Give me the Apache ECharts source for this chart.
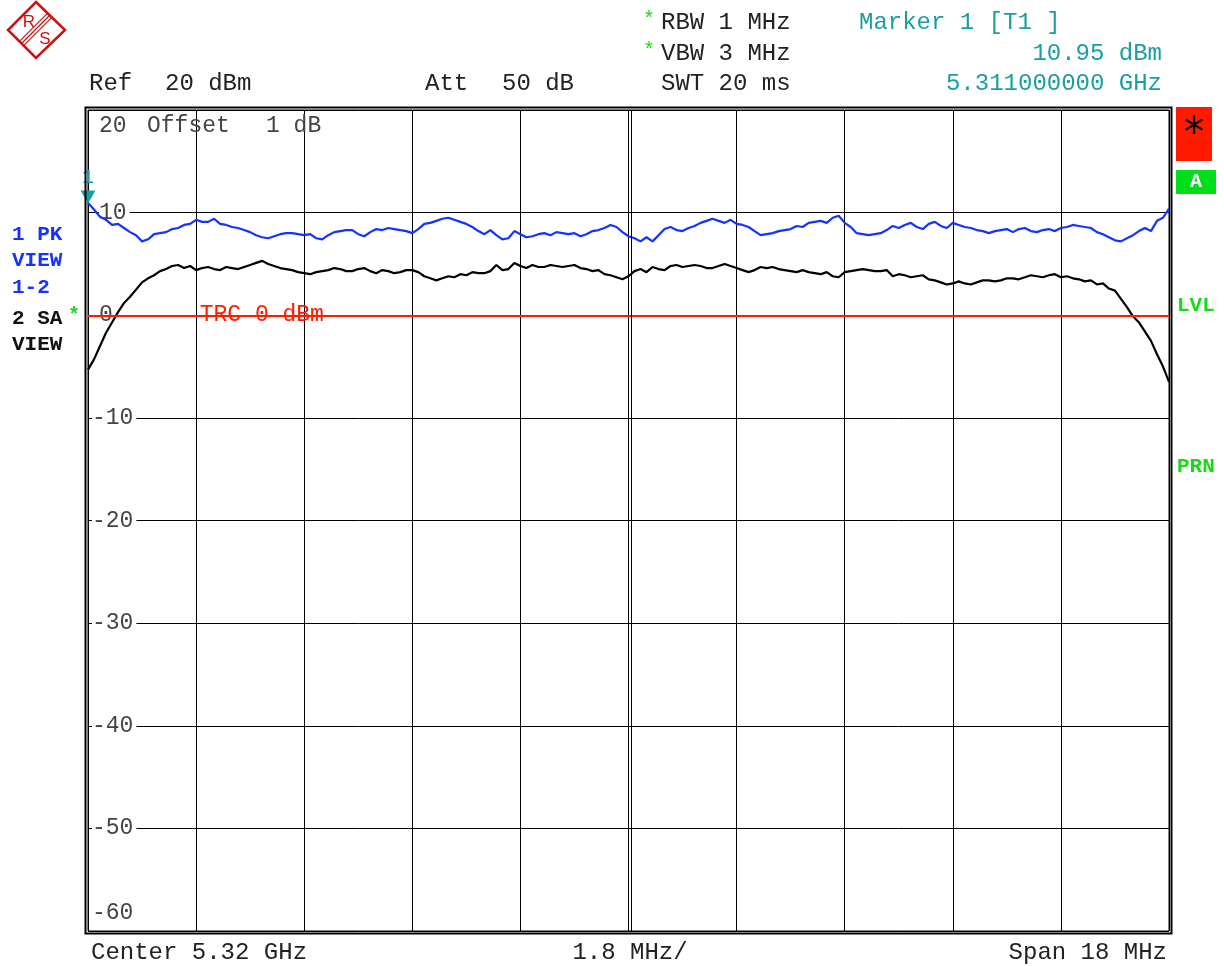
<!DOCTYPE html>
<html><head><meta charset="utf-8">
<script src="https://cdn.jsdelivr.net/npm/echarts@6/dist/echarts.min.js"></script>
<style>html,body{margin:0;padding:0;background:#fff}#c{width:1224px;height:966px}</style>
</head><body><div id="c"></div>
<script>
// ---- data ----
const spanMHz = 18;          // 5.311 .. 5.329 GHz
const divMHz = 1.8;
const stepMHz = 0.1;         // spacing of the read-off trace points
const yMin = -60, yMax = 20, yDiv = 10;
const trcLevel = 0;          // TRC 0 dBm display line
const marker1 = [0, 10.95];  // 5.311 GHz, 10.95 dBm

// Trace 1 (PK, blue), dBm
const pkTrace = [
  10.95,10.3,9.6,9.3,8.8,8.9,8.5,8.1,7.8,7.2,7.4,7.9,8.0,8.1,8.4,8.5,8.8,8.9,9.3,9.1,
  9.1,9.4,8.9,8.8,8.6,8.5,8.3,8.1,7.8,7.6,7.5,7.7,7.9,8.0,8.0,7.9,7.8,7.9,7.5,7.4,
  7.8,8.1,8.2,8.3,8.3,7.9,7.7,8.1,8.4,8.3,8.5,8.4,8.3,8.2,8.0,8.4,8.9,9.0,9.2,9.4,
  9.5,9.3,9.1,8.9,8.6,8.2,7.9,8.3,7.8,7.4,7.5,8.2,7.9,7.6,7.7,7.9,8.0,7.8,8.1,8.0,
  7.9,8.0,7.7,7.9,8.2,8.3,8.5,8.8,8.6,8.1,7.7,7.5,7.2,7.6,7.2,7.8,8.4,8.6,8.3,8.2,
  8.5,8.7,9.0,9.2,9.4,9.2,9.0,9.3,8.9,8.8,8.6,8.2,7.8,7.9,8.0,8.2,8.3,8.4,8.7,8.6,
  9.0,9.1,9.2,9.0,9.5,9.7,9.0,8.6,8.0,7.9,7.8,7.9,8.0,8.3,8.7,8.5,8.8,9.0,8.6,8.4,
  8.9,9.1,8.7,8.5,9.0,8.8,8.6,8.5,8.3,8.2,8.0,8.2,8.3,8.4,8.1,8.4,8.5,8.2,8.1,8.3,
  8.4,8.2,8.5,8.6,8.8,8.7,8.6,8.5,8.1,7.9,7.6,7.3,7.2,7.5,7.8,8.2,8.5,8.2,9.2,9.5,
  10.4];
// Trace 2 (SA, black), dBm
const saTrace = [
  -5.3,-4.3,-3.0,-1.7,-0.7,0.3,1.2,1.8,2.5,3.2,3.6,3.9,4.3,4.5,4.8,4.9,4.6,4.8,4.4,4.6,
  4.7,4.5,4.4,4.7,4.6,4.5,4.7,4.9,5.1,5.3,5.0,4.8,4.6,4.5,4.4,4.2,4.1,4.0,4.2,4.3,
  4.4,4.6,4.5,4.3,4.3,4.5,4.6,4.3,4.1,4.4,4.3,4.1,4.2,4.4,4.4,4.2,3.8,3.6,3.4,3.6,
  3.8,3.7,4.0,3.9,4.2,4.1,4.1,4.3,4.9,4.4,4.5,5.1,4.8,4.6,4.9,4.7,4.7,4.9,4.8,4.7,
  4.8,4.9,4.6,4.5,4.3,4.4,4.0,3.9,3.7,3.5,3.8,4.3,4.5,4.2,4.7,4.5,4.4,4.8,4.9,4.7,
  4.8,4.9,4.8,4.6,4.6,4.8,5.0,4.8,4.6,4.4,4.2,4.4,4.7,4.6,4.7,4.5,4.4,4.3,4.2,4.4,
  4.2,4.1,4.0,4.2,3.8,3.7,4.2,4.3,4.4,4.5,4.4,4.3,4.3,4.4,3.8,4.0,3.9,3.7,3.8,3.9,
  3.5,3.4,3.2,3.0,3.1,3.3,3.1,3.0,3.2,3.4,3.4,3.3,3.4,3.6,3.6,3.5,3.7,3.9,3.8,3.7,
  3.9,4.0,3.7,3.8,3.6,3.5,3.3,3.4,3.0,3.1,2.6,2.4,1.6,0.8,-0.1,-0.7,-1.6,-2.5,-3.8,-5.0,
  -6.5];

const headerLeft = [['Ref', 89, 84], ['20 dBm', 165, 84], ['Att', 425, 84], ['50 dB', 502, 84],
  ['SWT 20 ms', 661, 84], ['RBW 1 MHz', 661, 23], ['VBW 3 MHz', 661, 54]];
const markerTexts = ['Marker 1 [T1 ]', '10.95 dBm', '5.311000000 GHz'];
const footer = ['Center 5.32 GHz', '1.8 MHz/', 'Span 18 MHz'];

// ---- chart ----
const MONO = "'Liberation Mono','Courier New',monospace";
const BLUE = '#1433ff', TEAL = '#1a9e9e', GREEN = '#16dc16', RED = '#ff1a00';
const pk = pkTrace.map((v, i) => [i * stepMHz, v]);
const sa = saTrace.map((v, i) => [i * stepMHz, v]);

const chart = echarts.init(document.getElementById('c'), null, {renderer: 'canvas'});
chart.setOption({
  animation: false,
  backgroundColor: '#fff',
  grid: {left: 88, right: 55, top: 110, bottom: 35, show: true, borderColor: '#000', borderWidth: 1},
  xAxis: {type: 'value', min: 0, max: spanMHz, interval: divMHz,
    axisLine: {show: false}, axisTick: {show: false}, axisLabel: {show: false},
    splitLine: {show: true, lineStyle: {color: '#000', width: 1}}},
  yAxis: {type: 'value', min: yMin, max: yMax, interval: yDiv,
    axisLine: {show: false}, axisTick: {show: false},
    axisLabel: {inside: true, margin: 4, showMinLabel: false, showMaxLabel: false,
      formatter: v => v >= 0 ? '{s| }{n|' + v + '}' : '{n|' + v + '}',
      rich: {s: {width: 7, fontSize: 10},
        n: {fontFamily: MONO, fontSize: 23, color: '#444', backgroundColor: '#fff', padding: [0, 3, 0, 0]}}},
    splitLine: {show: true, lineStyle: {color: '#000', width: 1}}},
  series: [
    {name: '2 SA', type: 'line', data: sa, symbol: 'none', z: 3,
      lineStyle: {color: '#000', width: 2.2},
      markLine: {silent: true, symbol: 'none', label: {show: false}, z: 5,
        lineStyle: {color: RED, width: 2, type: 'solid'}, data: [{yAxis: trcLevel}]}},
    {name: '1 PK', type: 'line', data: pk, symbol: 'none', z: 4,
      lineStyle: {color: BLUE, width: 2.2},
      markPoint: {symbol: 'triangle', symbolRotate: 180, symbolSize: [15, 13], symbolOffset: [0, -6],
        itemStyle: {color: TEAL},
        label: {show: true, formatter: '1', position: 'top', distance: 3, color: TEAL, fontFamily: MONO, fontSize: 20},
        data: [{coord: marker1}]}}
  ]
});

const P = (x, y) => chart.convertToPixel({gridIndex: 0}, [x, y]);
const txt = (text, x, y, opt) => ({type: 'text', silent: true, z: 100,
  style: Object.assign({text, x, y, font: '24px ' + MONO, fill: '#222', align: 'left', verticalAlign: 'middle'}, opt || {})});

const tl = P(0, yMax), br = P(spanMHz, yMin), mid = P(spanMHz / 2, 0);
const g = [];
// outer frame of the double border
g.push({type: 'rect', silent: true, z: 90, shape: {x: tl[0] - 2.5, y: tl[1] - 2.5, width: br[0] - tl[0] + 5, height: br[1] - tl[1] + 5},
  style: {fill: 'none', stroke: '#000', lineWidth: 2}});
// doubled centre line
g.push({type: 'line', silent: true, z: 90, shape: {x1: mid[0] + 3, y1: tl[1], x2: mid[0] + 3, y2: br[1]}, style: {stroke: '#000', lineWidth: 1}});
// top / bottom y labels
const LF = '23px ' + MONO;
g.push(txt('20', tl[0] + 11, tl[1] + 16, {fill: '#444', font: LF}));
g.push(txt('Offset', tl[0] + 59, tl[1] + 16, {fill: '#444', font: LF}));
g.push(txt('1 dB', tl[0] + 178, tl[1] + 16, {fill: '#444', font: LF}));
g.push(txt('-60', tl[0] + 4, br[1] - 18, {fill: '#444', font: LF}));
// TRC label
const trc = P(1.86, trcLevel);
g.push(txt('TRC 0 dBm', trc[0], trc[1], {fill: RED, font: LF}));
// header
headerLeft.forEach(h => g.push(txt(h[0], h[1], h[2])));
g.push(txt('*', 643, 20, {fill: GREEN, font: '20px ' + MONO}));
g.push(txt('*', 643, 51, {fill: GREEN, font: '20px ' + MONO}));
g.push(txt(markerTexts[0], 859, 23, {fill: TEAL}));
g.push(txt(markerTexts[1], 1162, 54, {fill: TEAL, align: 'right'}));
g.push(txt(markerTexts[2], 1162, 84, {fill: TEAL, align: 'right'}));
// footer
g.push(txt(footer[0], 91, 953));
g.push(txt(footer[1], 630, 953, {align: 'center'}));
g.push(txt(footer[2], 1167, 953, {align: 'right'}));
// left trace info
const BF = 'bold 21px ' + MONO;
[['1 PK', 235, BLUE], ['VIEW', 261, BLUE], ['1-2', 288, BLUE], ['2 SA', 319, '#111'], ['VIEW', 345, '#111']]
  .forEach(r => g.push(txt(r[0], 12, r[1], {fill: r[2], font: BF})));
g.push(txt('*', 68, 316, {fill: GREEN, font: 'bold 20px ' + MONO}));
// right status panel
g.push({type: 'rect', silent: true, shape: {x: 1176, y: 107, width: 36, height: 54}, style: {fill: RED}});
g.push(txt('*', 1194, 136, {fill: '#000', font: "40px 'DejaVu Sans'", align: 'center'}));
g.push({type: 'rect', silent: true, shape: {x: 1176, y: 170, width: 40, height: 24}, style: {fill: '#00e01a'}});
g.push(txt('A', 1196, 182, {fill: '#fff', font: 'bold 20px ' + MONO, align: 'center'}));
g.push(txt('LVL', 1177, 306, {fill: GREEN, font: BF}));
g.push(txt('PRN', 1177, 467, {fill: GREEN, font: BF}));
// R&S logo
const LR = '#cc1111';
g.push({type: 'polygon', silent: true, shape: {points: [[36, 2], [65, 30], [36, 58], [8, 30]]}, style: {fill: 'none', stroke: LR, lineWidth: 2.5}});
[-3, 0, 3].forEach(d => g.push({type: 'line', silent: true, shape: {x1: 50 + d * 0.7, y1: 15 + d * 0.7, x2: 22 + d * 0.7, y2: 43 + d * 0.7}, style: {stroke: LR, lineWidth: 1.2}}));
g.push(txt('R', 29, 22, {fill: LR, font: "17px 'Liberation Sans',Arial,sans-serif", align: 'center'}));
g.push(txt('S', 45, 39, {fill: LR, font: "17px 'Liberation Sans',Arial,sans-serif", align: 'center'}));

chart.setOption({graphic: g});
</script></body></html>
